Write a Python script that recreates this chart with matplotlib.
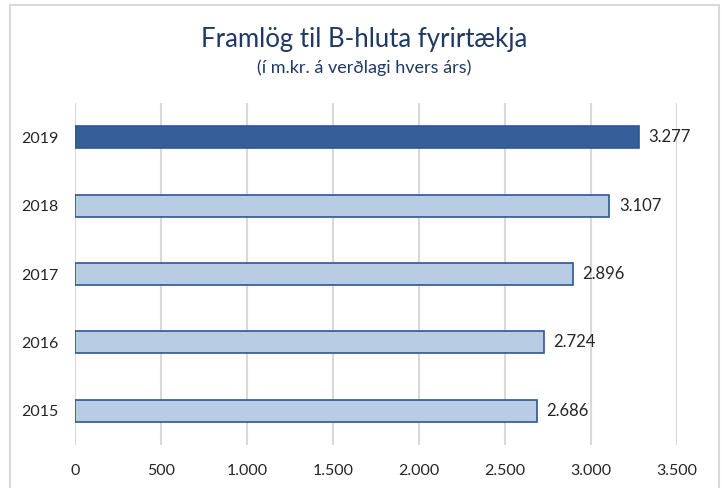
import matplotlib.pyplot as plt
from matplotlib.patches import Rectangle

years = ['2015', '2016', '2017', '2018', '2019']
values = [2686, 2724, 2896, 3107, 3277]
value_labels = ['2.686', '2.724', '2.896', '3.107', '3.277']
x_ticks = [0, 500, 1000, 1500, 2000, 2500, 3000, 3500]
x_tick_labels = ['0', '500', '1.000', '1.500', '2.000', '2.500', '3.000', '3.500']

plt.rcParams['font.family'] = ['Lato', 'DejaVu Sans']

W, H = 722, 488
fig = plt.figure(figsize=(W / 100, H / 100), dpi=100)
ax = fig.add_axes([75 / W, 1 - 445 / H, (677 - 75) / W, (445 - 103) / H])

# chart-area border
fig.patches.append(Rectangle((10 / W, -0.05), 709 / W, 1.05 - 5 / H, transform=fig.transFigure,
                             fill=False, edgecolor='#d9d9d9', linewidth=1.5))

light = '#b8cce4'
dark = '#365f9a'
edge = '#2f5597'
colors = [light] * 4 + [dark]
pos = list(range(len(years)))
ax.barh(pos, values, height=0.32, color=colors, edgecolor=edge, linewidth=1.2, zorder=3)

for p, v, lab in zip(pos, values, value_labels):
    ax.text(v + 55, p, lab, va='center', ha='left', fontsize=12, color='#262626')

ax.set_xlim(0, 3500)
ax.set_ylim(-0.5, 4.5)
ax.set_xticks(x_ticks)
ax.set_xticklabels(x_tick_labels, fontsize=11.5, color='#262626')
ax.set_yticks(pos)
ax.set_yticklabels(years, fontsize=11.5, color='#262626')
ax.tick_params(length=0)
ax.tick_params(axis='x', pad=14)
ax.tick_params(axis='y', pad=12)
ax.grid(axis='x', color='#d9d9d9', linewidth=1.5, zorder=0)
for s in ax.spines.values():
    s.set_visible(False)

fig.text(364 / W, 1 - 40 / H, 'Framlög til B-hluta fyrirtækja', ha='center', va='center',
         fontsize=18.5, color='#1f3864')
fig.text(364 / W, 1 - 68 / H, '(í m.kr. á verðlagi hvers árs)', ha='center', va='center',
         fontsize=13, color='#1f3864')

fig.savefig('out.png', dpi=100)
